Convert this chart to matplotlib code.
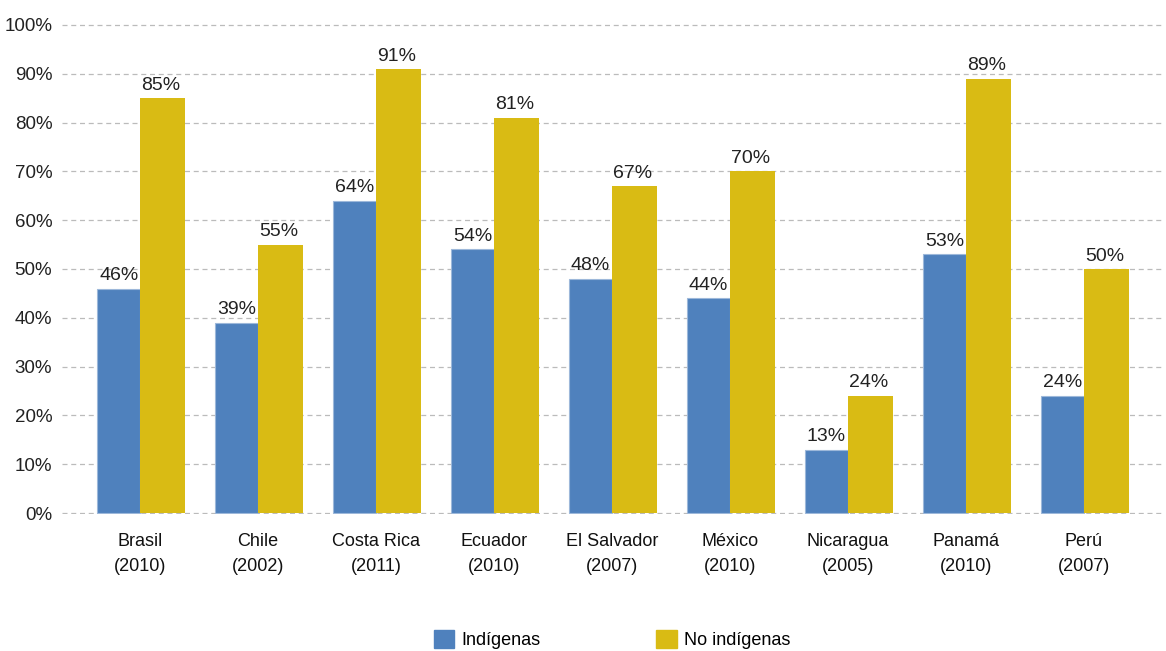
import matplotlib
matplotlib.use("Agg")
import matplotlib.pyplot as plt
import numpy as np
from matplotlib.patches import Patch

plt.rcParams["font.family"] = ["Liberation Sans", "DejaVu Sans"]

countries = ["Brasil\n(2010)", "Chile\n(2002)", "Costa Rica\n(2011)", "Ecuador\n(2010)",
             "El Salvador\n(2007)", "México\n(2010)", "Nicaragua\n(2005)", "Panamá\n(2010)",
             "Perú\n(2007)"]
indigenas = [46, 39, 64, 54, 48, 44, 13, 53, 24]
no_indigenas = [85, 55, 91, 81, 67, 70, 24, 89, 50]
yticks = [0, 10, 20, 30, 40, 50, 60, 70, 80, 90, 100]

blue = "#4f81bd"
gold = "#d9bb14"

fig = plt.figure(figsize=(11.66, 6.51), dpi=100)
ax = fig.add_axes([62 / 1166, 1 - 514 / 651, 1102 / 1166, 490 / 651])

x = np.arange(len(countries))
w = 0.36
ax.bar(x - w / 2, indigenas, w, color=blue, edgecolor="#9db8da", linewidth=0.8, zorder=3)
ax.bar(x + w / 2 + 0.01, no_indigenas, w + 0.02, color=gold, linewidth=0, zorder=3)

for xi, v in zip(x, indigenas):
  ax.text(xi - w / 2, v + 0.9, f"{v}%", ha="center", va="bottom", fontsize=14, color="#222222")
for xi, v in zip(x, no_indigenas):
  ax.text(xi + w / 2, v + 0.9, f"{v}%", ha="center", va="bottom", fontsize=14, color="#222222")

ax.set_xlim(-0.66, len(countries) - 1 + 0.68)
ax.set_ylim(-0.2, 100.2)
ax.set_yticks(yticks)
ax.set_yticklabels([f"{t}%" for t in yticks], fontsize=13.5, color="#222222")
ax.set_xticks(x)
ax.set_xticklabels(countries, fontsize=13, color="#111111", linespacing=1.6)
ax.tick_params(axis="both", length=0)
ax.tick_params(axis="x", pad=14)
ax.tick_params(axis="y", pad=7)
ax.grid(axis="y", linestyle=(0, (4, 3)), color="#bbbbbb", linewidth=0.9, zorder=0)
for s in ax.spines.values():
  s.set_visible(False)

handles = [Patch(color=blue, label="Indígenas"), Patch(color=gold, label="No indígenas")]
fig.legend(handles=handles, loc="center", bbox_to_anchor=(0.525, 0.017), ncol=2, frameon=False,
           fontsize=13, handlelength=1.15, handleheight=1.15, columnspacing=6.4, handletextpad=0.4)

fig.savefig("out.png", dpi=100)
